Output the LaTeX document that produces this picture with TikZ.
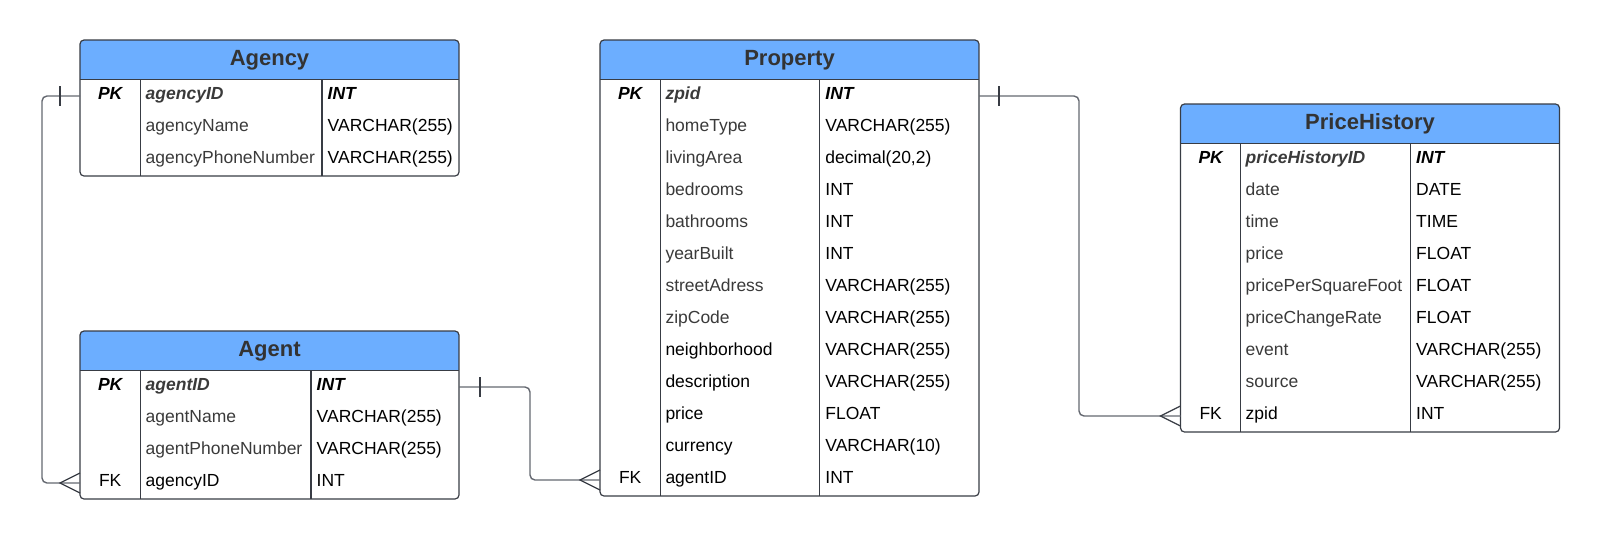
\documentclass[tikz,border=0pt]{standalone}
\usepackage{fontspec}
\setmainfont{Liberation Sans}
\usepackage{tikz}
\usepackage{xcolor}
\usetikzlibrary{arrows.meta, positioning, calc}

\definecolor{headblue}{RGB}{108,174,255}
\definecolor{framecol}{RGB}{56,60,68}
\definecolor{relcol}{RGB}{100,104,112}
\definecolor{fieldgray}{RGB}{58,58,58}
\definecolor{titlegray}{RGB}{51,51,51}

\begin{document}
\begin{tikzpicture}[
    x=1pt, y=1pt,
    every node/.style={inner sep=0pt},
    tablebox/.style={draw=framecol, line width=1.2pt, rounded corners=4pt, anchor=north west,
        minimum width=379, outer sep=0pt,
        path picture={\fill[headblue, sharp corners] (path picture bounding box.north west)
            rectangle ([yshift=-40]path picture bounding box.north east);}},
    title/.style={font=\fontsize{22}{26}\selectfont\bfseries, text=titlegray, text height=15pt, text depth=5pt},
    cell/.style={anchor=west, minimum height=32, text height=11pt, text depth=5pt, font=\fontsize{17.5}{21}\selectfont},
    keycell/.style={cell, minimum width=60},
    namecell/.style={cell, inner xsep=5pt, text=fieldgray},
    typecell/.style={cell, inner xsep=5.5pt},
    pkfont/.style={font=\fontsize{17.5}{21}\selectfont\bfseries\itshape},
    divider/.style={draw=framecol, line width=1.2pt},
    rel/.style={draw=relcol, line width=1.4pt, rounded corners=5pt},
    relend/.style={draw=framecol, line width=1.2pt}
]
\useasboundingbox (0,0) rectangle (1600,-539);

% Agency
\node[tablebox, minimum height=136] (agency) at (80,-40) {};
\node[title] (agency-title) at ([yshift=-20]agency.north) {Agency};
\node[keycell, pkfont] (agency-k1) at ([yshift=-56]agency.north west) {PK};
\node[namecell, pkfont] (agency-n1) at ([xshift=60.5, yshift=-56]agency.north west) {agencyID};
\node[typecell, pkfont] (agency-t1) at ([xshift=242, yshift=-56]agency.north west) {INT};
\foreach \fkey/\fname/\ftype/\fcol [count=\i from 2] in
    {{}/agencyName/VARCHAR(255)/fieldgray, {}/agencyPhoneNumber/VARCHAR(255)/fieldgray} {
    \node[keycell] (agency-k\i) at ([yshift={-24-32*\i}]agency.north west) {\fkey};
    \node[namecell, text=\fcol] (agency-n\i) at ([xshift=60.5, yshift={-24-32*\i}]agency.north west) {\fname};
    \node[typecell] (agency-t\i) at ([xshift=242, yshift={-24-32*\i}]agency.north west) {\ftype};
}
\draw[divider] (agency-k1.north west) -- (agency-k1.north west -| agency.east);
\draw[divider] (agency-n1.north west) -- (agency-n3.south west);
\draw[divider] (agency-t1.north west) -- (agency-t3.south west);

% Agent
\node[tablebox, minimum height=168] (agent) at (80,-331) {};
\node[title] (agent-title) at ([yshift=-20]agent.north) {Agent};
\node[keycell, pkfont] (agent-k1) at ([yshift=-56]agent.north west) {PK};
\node[namecell, pkfont] (agent-n1) at ([xshift=60.5, yshift=-56]agent.north west) {agentID};
\node[typecell, pkfont] (agent-t1) at ([xshift=231, yshift=-56]agent.north west) {INT};
\foreach \fkey/\fname/\ftype/\fcol [count=\i from 2] in
    {{}/agentName/VARCHAR(255)/fieldgray, {}/agentPhoneNumber/VARCHAR(255)/fieldgray, FK/agencyID/INT/black} {
    \node[keycell] (agent-k\i) at ([yshift={-24-32*\i}]agent.north west) {\fkey};
    \node[namecell, text=\fcol] (agent-n\i) at ([xshift=60.5, yshift={-24-32*\i}]agent.north west) {\fname};
    \node[typecell] (agent-t\i) at ([xshift=231, yshift={-24-32*\i}]agent.north west) {\ftype};
}
\draw[divider] (agent-k1.north west) -- (agent-k1.north west -| agent.east);
\draw[divider] (agent-n1.north west) -- (agent-n4.south west);
\draw[divider] (agent-t1.north west) -- (agent-t4.south west);

% Property
\node[tablebox, minimum height=456] (property) at (600,-40) {};
\node[title] (property-title) at ([yshift=-20]property.north) {Property};
\node[keycell, pkfont] (property-k1) at ([yshift=-56]property.north west) {PK};
\node[namecell, pkfont] (property-n1) at ([xshift=60.3, yshift=-56]property.north west) {zpid};
\node[typecell, pkfont] (property-t1) at ([xshift=219.7, yshift=-56]property.north west) {INT};
\foreach \fkey/\fname/\ftype/\fcol [count=\i from 2] in
    {{}/homeType/VARCHAR(255)/fieldgray, {}/livingArea/{decimal(20,2)}/fieldgray,
     {}/bedrooms/INT/fieldgray, {}/bathrooms/INT/fieldgray, {}/yearBuilt/INT/fieldgray,
     {}/streetAdress/VARCHAR(255)/fieldgray, {}/zipCode/VARCHAR(255)/fieldgray,
     {}/neighborhood/VARCHAR(255)/black, {}/description/VARCHAR(255)/black,
     {}/price/FLOAT/black, {}/currency/VARCHAR(10)/black, FK/agentID/INT/black} {
    \node[keycell] (property-k\i) at ([yshift={-24-32*\i}]property.north west) {\fkey};
    \node[namecell, text=\fcol] (property-n\i) at ([xshift=60.3, yshift={-24-32*\i}]property.north west) {\fname};
    \node[typecell] (property-t\i) at ([xshift=219.7, yshift={-24-32*\i}]property.north west) {\ftype};
}
\draw[divider] (property-k1.north west) -- (property-k1.north west -| property.east);
\draw[divider] (property-n1.north west) -- (property-n13.south west);
\draw[divider] (property-t1.north west) -- (property-t13.south west);

% PriceHistory
\node[tablebox, minimum height=328] (price) at (1180.5,-104) {};
\node[title] (price-title) at ([yshift=-20]price.north) {PriceHistory};
\node[keycell, pkfont] (price-k1) at ([yshift=-56]price.north west) {PK};
\node[namecell, pkfont] (price-n1) at ([xshift=60, yshift=-56]price.north west) {priceHistoryID};
\node[typecell, pkfont] (price-t1) at ([xshift=230, yshift=-56]price.north west) {INT};
\foreach \fkey/\fname/\ftype/\fcol [count=\i from 2] in
    {{}/date/DATE/fieldgray, {}/time/TIME/fieldgray, {}/price/FLOAT/fieldgray,
     {}/pricePerSquareFoot/FLOAT/fieldgray, {}/priceChangeRate/FLOAT/fieldgray,
     {}/event/VARCHAR(255)/fieldgray, {}/source/VARCHAR(255)/fieldgray, FK/zpid/INT/black} {
    \node[keycell] (price-k\i) at ([yshift={-24-32*\i}]price.north west) {\fkey};
    \node[namecell, text=\fcol] (price-n\i) at ([xshift=60, yshift={-24-32*\i}]price.north west) {\fname};
    \node[typecell] (price-t\i) at ([xshift=230, yshift={-24-32*\i}]price.north west) {\ftype};
}
\draw[divider] (price-k1.north west) -- (price-k1.north west -| price.east);
\draw[divider] (price-n1.north west) -- (price-n9.south west);
\draw[divider] (price-t1.north west) -- (price-t9.south west);

% Agency 1 -- n Agent
\draw[rel] (agency-k1.west) -- ++(-38,0) |- (agent-k4.west);
\draw[relend] ([xshift=-20, yshift=10]agency-k1.west) -- ++(0,-20);
\draw[relend] ([yshift=10]agent-k4.west) -- ([xshift=-20]agent-k4.west) -- ([yshift=-10]agent-k4.west);

% Agent 1 -- n Property
\draw[rel] (agent-k1 -| agent.east) -- ++(71,0) |- (property-k13.west);
\draw[relend] ($(agent-k1 -| agent.east)+(21,10)$) -- ++(0,-20);
\draw[relend] ([yshift=10]property-k13.west) -- ([xshift=-20]property-k13.west) -- ([yshift=-10]property-k13.west);

% Property 1 -- n PriceHistory
\draw[rel] (property-k1 -| property.east) -- ++(100,0) |- (price-k9.west);
\draw[relend] ($(property-k1 -| property.east)+(20,10)$) -- ++(0,-20);
\draw[relend] ([yshift=10]price-k9.west) -- ([xshift=-20]price-k9.west) -- ([yshift=-10]price-k9.west);

\end{tikzpicture}
\end{document}
